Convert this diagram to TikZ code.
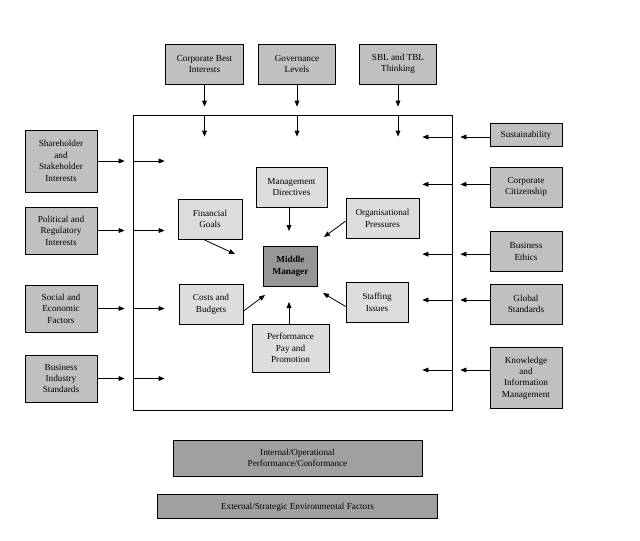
\documentclass[tikz,border=0pt]{standalone}
\usepackage{fontspec}
\setmainfont{Liberation Serif}
\usetikzlibrary{arrows.meta,positioning}
\definecolor{Outer}{HTML}{C0C0C0}
\definecolor{Inner}{HTML}{DDDDDD}
\definecolor{Core}{HTML}{969696}
\definecolor{Key}{HTML}{A0A0A0}

\begin{document}
\begin{tikzpicture}[
  x=0.75pt,y=-0.75pt,
  font=\fontsize{6.9}{8.6}\selectfont,
  boxouter/.style={draw,fill=Outer,line width=0.6pt,align=center,inner sep=1pt,minimum width=54pt},
  boxtop/.style={boxouter,minimum width=58pt,minimum height=30pt},
  boxinner/.style={draw,fill=Inner,line width=0.6pt,align=center,inner sep=1pt,minimum height=29.5pt},
  boxcore/.style={draw,fill=Core,line width=0.6pt,align=center,inner sep=1pt,minimum width=41pt,minimum height=29.5pt,font=\fontsize{6.9}{8.6}\selectfont\bfseries},
  boxkey/.style={draw,fill=Key,line width=0.6pt,align=center,inner sep=1pt},
  arrow/.style={-{Triangle[length=4.5pt,width=3.6pt]},line width=0.6pt}
]
\path[fill=white] (0,0) rectangle (640,540);
\useasboundingbox (0,0) rectangle (640,540);

% environment frame
\node[draw,line width=0.6pt,minimum width=239.25pt,minimum height=221.25pt] (env) at (292.5,262.5) {};

% top influences
\node[boxtop] (cbi) at (204.5,64) {Corporate Best\\Interests};
\node[boxtop] (gov) at (297,64) {Governance\\Levels};
\node[boxtop] (sbl) at (398,64) {SBL and TBL\\Thinking};

% left influences
\node[boxouter,minimum height=46.5pt] (sh) at (61,161) {Shareholder\\and\\Stakeholder\\Interests};
\node[boxouter,minimum height=35.25pt] (pol) at (61,230.5) {Political and\\Regulatory\\Interests};
\node[boxouter,minimum height=35.25pt] (soc) at (61,308.5) {Social and\\Economic\\Factors};
\node[boxouter,minimum height=35.25pt] (bis) at (61,378.5) {Business\\Industry\\Standards};

% right influences
\node[boxouter,minimum height=17.25pt] (sus) at (526,135) {Sustainability};
\node[boxouter,minimum height=30pt] (cit) at (526,187) {Corporate\\Citizenship};
\node[boxouter,minimum height=30pt] (eth) at (526,251.5) {Business\\Ethics};
\node[boxouter,minimum height=30pt] (glo) at (526,304) {Global\\Standards};
\node[boxouter,minimum height=45.75pt] (kim) at (526,378) {Knowledge\\and\\Information\\Management};

% inside the organisation
\node[boxcore] (mm) at (290.5,266.5) {Middle\\Manager};
\node[boxinner,minimum width=53.25pt,minimum height=30pt] (md) at (291.5,187) {Management\\Directives};
\node[boxinner,minimum width=48pt,minimum height=30pt] (fg) at (210,219) {Financial\\Goals};
\node[boxinner,minimum width=54.75pt] (op) at (382.5,218.5) {Organisational\\Pressures};
\node[boxinner,minimum width=48pt] (cb) at (211,304.5) {Costs and\\Budgets};
\node[boxinner,minimum width=46.5pt] (si) at (377,302.5) {Staffing\\Issues};
\node[boxinner,minimum width=57.75pt,minimum height=36pt] (ppp) at (290.5,348) {Performance\\Pay and\\Promotion};

% key
\node[boxkey,minimum width=186.75pt,minimum height=27pt] (intl) at (297.5,458) {Internal/Operational\\Performance/Conformance};
\node[boxkey,minimum width=210pt,minimum height=18pt,below=13.5pt of intl] (extl) {External/Strategic Environmental Factors};

% free ends near the middle manager
\coordinate (inMD) at (289,231);
\coordinate (inFG) at (235,254);
\coordinate (inOP) at (324,237);
\coordinate (inCB) at (265,295);
\coordinate (inSI) at (323,293);
\coordinate (inPP) at (289,302);

\draw[arrow,shorten >=6pt] (cbi) -- (cbi |- env.north);
\draw[arrow] (cbi |- env.north) -- ++(0,22);
\draw[arrow,shorten >=6pt] (gov) -- (gov |- env.north);
\draw[arrow] (gov |- env.north) -- ++(0,22);
\draw[arrow,shorten >=6pt] (sbl) -- (sbl |- env.north);
\draw[arrow] (sbl |- env.north) -- ++(0,22);

\draw[arrow,shorten >=6pt] (sh) -- (sh -| env.west);
\draw[arrow] (sh -| env.west) -- ++(32,0);
\draw[arrow,shorten >=6pt] (pol) -- (pol -| env.west);
\draw[arrow] (pol -| env.west) -- ++(32,0);
\draw[arrow,shorten >=6pt] (soc) -- (soc -| env.west);
\draw[arrow] (soc -| env.west) -- ++(32,0);
\draw[arrow,shorten >=6pt] (bis) -- (bis -| env.west);
\draw[arrow] (bis -| env.west) -- ++(32,0);

\draw[arrow,shorten >=6pt] ([yshift=-1.5pt]sus.west) -- ([yshift=-1.5pt]sus.west -| env.east);
\draw[arrow] ([yshift=-1.5pt]sus.west -| env.east) -- ++(-30,0);
\draw[arrow,shorten >=6pt] ([yshift=2pt]cit.west) -- ([yshift=2pt]cit.west -| env.east);
\draw[arrow] ([yshift=2pt]cit.west -| env.east) -- ++(-30,0);
\draw[arrow,shorten >=6pt] ([yshift=-2pt]eth.west) -- ([yshift=-2pt]eth.west -| env.east);
\draw[arrow] ([yshift=-2pt]eth.west -| env.east) -- ++(-30,0);
\draw[arrow,shorten >=6pt] ([yshift=3pt]glo.west) -- ([yshift=3pt]glo.west -| env.east);
\draw[arrow] ([yshift=3pt]glo.west -| env.east) -- ++(-30,0);
\draw[arrow,shorten >=6pt] ([yshift=6pt]kim.west) -- ([yshift=6pt]kim.west -| env.east);
\draw[arrow] ([yshift=6pt]kim.west -| env.east) -- ++(-30,0);

\draw[arrow] (md.south -| inMD) -- (inMD);
\draw[arrow] ([xshift=-5pt]fg.south) -- (inFG);
\draw[arrow] ([yshift=-2pt]op.west) -- (inOP);
\draw[arrow] ([yshift=-5pt]cb.east) -- (inCB);
\draw[arrow] ([yshift=-3pt]si.west) -- (inSI);
\draw[arrow] (ppp.north -| inPP) -- (inPP);
\end{tikzpicture}
\end{document}
